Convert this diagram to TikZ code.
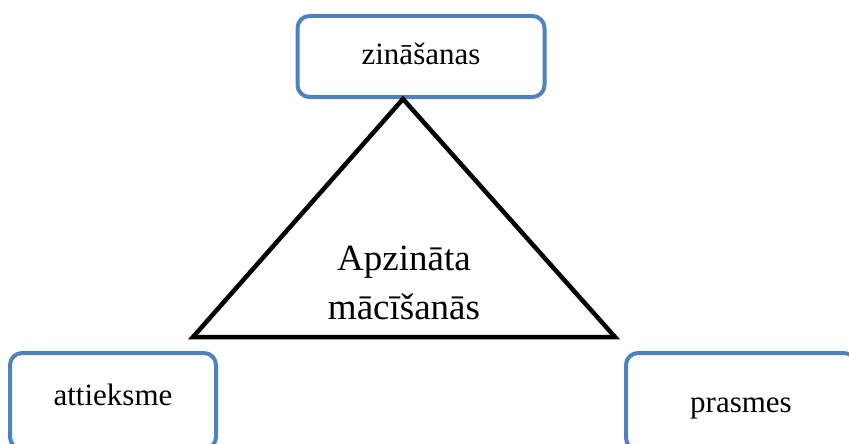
\documentclass[tikz,border=0pt]{standalone}
\usepackage{fontspec}
\setmainfont{Liberation Serif}
\newfontfamily\boxfont{Liberation Serif}
\usepackage{xcolor}
\definecolor{boxblue}{HTML}{4F81BD}
\tikzset{
  blk/.style={draw=boxblue, line width=4pt, rounded corners=12pt, inner sep=0pt,
    fill=white, font=\boxfont\fontsize{31}{37}\selectfont, anchor=base}
}

\begin{document}
\begin{tikzpicture}[x=1pt, y=-1pt, line join=miter]
      \useasboundingbox (0,0) rectangle (849,444);
      \clip (0,0) rectangle (849,444);

      \node [blk, minimum width=247pt, text height=49pt, text depth=32pt, name=zin] at (421,65) {zināšanas};
      \node [blk, minimum width=206pt, text height=52pt, text depth=44pt, name=att] at (113,405) {attieksme};
      \node [blk, minimum width=230pt, text height=59pt, text depth=38pt, name=pra] at (741,412) {prasmes};

      \coordinate (apex) at (403,99);
      \coordinate (lft) at (193,337);
      \coordinate (rgt) at (615,337);
      \draw [line width=4.5pt] (apex) -- (lft) -- (rgt) -- cycle;

      \node [align=center, font=\boxfont\fontsize{37}{49}\selectfont, name=mid] at (404,283) {Apzināta\\mācīšanās};
    \end{tikzpicture}
\end{document}
